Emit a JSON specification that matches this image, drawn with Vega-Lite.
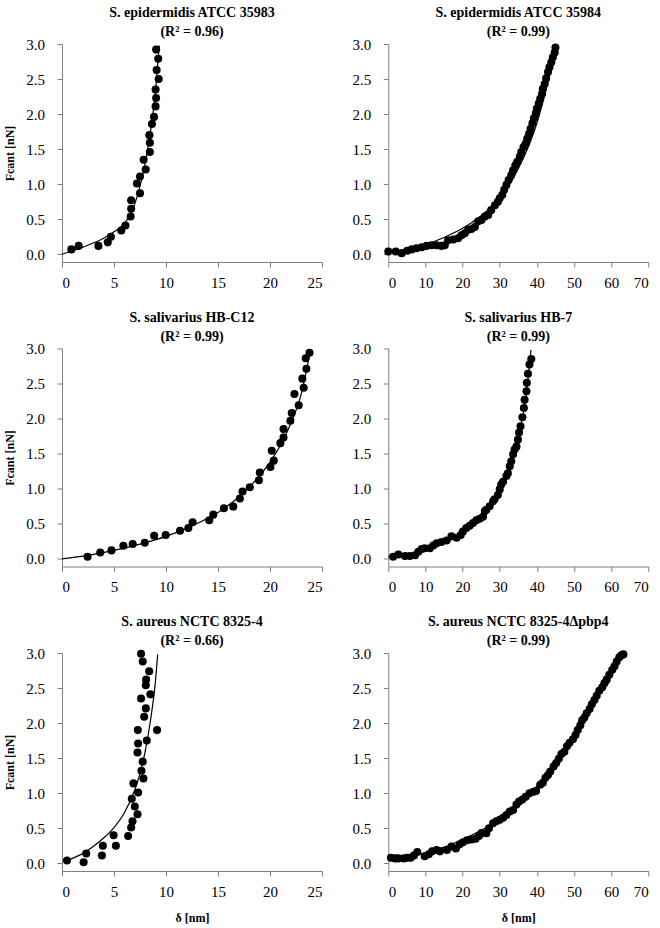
{
  "$schema": "https://vega.github.io/schema/vega-lite/v6.json",
  "autosize": {"type": "none"},
  "padding": {"left": 62, "top": 44, "right": 598, "bottom": 884},
  "config": {
    "view": {"stroke": null},
    "font": "Liberation Serif",
    "axis": {"grid": false, "domainColor": "#7f7f7f", "tickColor": "#7f7f7f", "labelFont": "Liberation Serif", "labelFontSize": 15, "labelColor": "#000", "titleFont": "Liberation Serif", "titleFontSize": 12, "titleFontWeight": "bold", "titleColor": "#000", "tickSize": 5, "domainWidth": 1, "tickWidth": 1},
    "axisX": {"labelPadding": 8, "titlePadding": 13},
    "axisY": {"labelPadding": 12.5, "titlePadding": 9},
    "title": {"font": "Liberation Serif", "fontSize": 14, "fontWeight": "bold", "color": "#000", "anchor": "middle", "offset": -2, "lineHeight": 19}
  },
  "columns": 2,
  "spacing": {"row": 86.5, "column": 66.3},
  "bounds": "flush",
  "datasets": {
    "p1": [{"d":0.9,"f":0.07},{"d":1.6,"f":0.12},{"d":3.5,"f":0.12},{"d":4.4,"f":0.17},{"d":4.7,"f":0.25},{"d":5.7,"f":0.34},{"d":6.1,"f":0.41},{"d":6.6,"f":0.54},{"d":6.65,"f":0.65},{"d":6.65,"f":0.77},{"d":7.2,"f":1.01},{"d":7.5,"f":1.11},{"d":7.5,"f":0.87},{"d":8.05,"f":1.21},{"d":7.85,"f":1.35},{"d":8.45,"f":1.46},{"d":8.45,"f":1.59},{"d":8.4,"f":1.70},{"d":8.65,"f":1.86},{"d":8.85,"f":1.96},{"d":9.0,"f":2.11},{"d":9.05,"f":2.23},{"d":9.0,"f":2.35},{"d":9.3,"f":2.50},{"d":9.1,"f":2.63},{"d":9.25,"f":2.79},{"d":9.05,"f":2.92}],
    "l1": [{"d":0,"f":0.0},{"d":1,"f":0.05},{"d":2,"f":0.1},{"d":3,"f":0.16},{"d":4,"f":0.23},{"d":5,"f":0.32},{"d":6,"f":0.44},{"d":6.5,"f":0.55},{"d":7,"f":0.72},{"d":7.5,"f":0.97},{"d":8,"f":1.3},{"d":8.5,"f":1.74},{"d":9,"f":2.35},{"d":9.35,"f":2.98}],
    "p2": [{"d":0,"f":0.04},{"d":2.0,"f":0.04},{"d":3.6,"f":0.015},{"d":5.1,"f":0.05},{"d":6.3,"f":0.07},{"d":7.6,"f":0.085},{"d":9,"f":0.1},{"d":10.3,"f":0.12},{"d":11.6,"f":0.13},{"d":13,"f":0.13},{"d":14.3,"f":0.12},{"d":15.2,"f":0.13},{"d":16.1,"f":0.2},{"d":17.5,"f":0.21},{"d":18.8,"f":0.23},{"d":19.7,"f":0.27},{"d":20.6,"f":0.3},{"d":21.5,"f":0.35},{"d":22.4,"f":0.36},{"d":23.3,"f":0.39},{"d":24.2,"f":0.47},{"d":25.1,"f":0.49},{"d":26,"f":0.54},{"d":26.9,"f":0.56},{"d":27.7,"f":0.63},{"d":28.7,"f":0.7},{"d":29.5,"f":0.75},{"d":30,"f":0.8},{"d":30.7,"f":0.85},{"d":31.2,"f":0.92},{"d":31.8,"f":0.99},{"d":32.4,"f":1.06},{"d":33.1,"f":1.13},{"d":33.6,"f":1.2},{"d":34.2,"f":1.27},{"d":34.7,"f":1.32},{"d":35.4,"f":1.39},{"d":35.8,"f":1.46},{"d":36.4,"f":1.53},{"d":37,"f":1.58},{"d":37.4,"f":1.65},{"d":37.9,"f":1.72},{"d":38.3,"f":1.79},{"d":38.8,"f":1.87},{"d":39.2,"f":1.94},{"d":39.7,"f":2.01},{"d":40,"f":2.08},{"d":40.5,"f":2.15},{"d":40.9,"f":2.22},{"d":41.4,"f":2.29},{"d":41.6,"f":2.36},{"d":42.1,"f":2.43},{"d":42.5,"f":2.51},{"d":43,"f":2.6},{"d":43.4,"f":2.67},{"d":43.9,"f":2.74},{"d":44.3,"f":2.81},{"d":44.8,"f":2.88},{"d":45,"f":2.95}],
    "l2": [{"d":0,"f":0.04},{"d":5,"f":0.075},{"d":10,"f":0.14},{"d":15,"f":0.24},{"d":20,"f":0.37},{"d":25,"f":0.55},{"d":28,"f":0.69},{"d":30,"f":0.8},{"d":35,"f":1.22},{"d":40,"f":1.87},{"d":43,"f":2.46},{"d":45.2,"f":2.97}],
    "p3": [{"d":2.46,"f":0.03},{"d":3.68,"f":0.09},{"d":4.76,"f":0.12},{"d":5.9,"f":0.185},{"d":6.8,"f":0.21},{"d":7.96,"f":0.23},{"d":8.86,"f":0.33},{"d":9.97,"f":0.34},{"d":11.35,"f":0.40},{"d":12.15,"f":0.44},{"d":12.56,"f":0.52},{"d":14.16,"f":0.55},{"d":14.55,"f":0.63},{"d":15.57,"f":0.72},{"d":16.47,"f":0.745},{"d":17.1,"f":0.86},{"d":17.36,"f":0.96},{"d":18.06,"f":1.02},{"d":18.93,"f":1.12},{"d":19.02,"f":1.23},{"d":20.04,"f":1.31},{"d":20.17,"f":1.54},{"d":20.36,"f":1.40},{"d":21.0,"f":1.65},{"d":21.3,"f":1.73},{"d":21.3,"f":1.85},{"d":21.96,"f":1.97},{"d":22.09,"f":2.08},{"d":22.76,"f":2.19},{"d":22.35,"f":2.35},{"d":23.24,"f":2.44},{"d":23.11,"f":2.57},{"d":23.5,"f":2.71},{"d":23.43,"f":2.86},{"d":23.8,"f":2.94}],
    "l3": [{"d":0,"f":0.0},{"d":2.5,"f":0.05},{"d":5,"f":0.12},{"d":7.5,"f":0.21},{"d":10,"f":0.32},{"d":12.5,"f":0.47},{"d":15,"f":0.66},{"d":17.5,"f":0.95},{"d":20,"f":1.38},{"d":21,"f":1.62},{"d":22,"f":1.93},{"d":23,"f":2.35},{"d":23.85,"f":2.95}],
    "p4": [{"d":1.3,"f":0.03},{"d":2.7,"f":0.06},{"d":4.5,"f":0.04},{"d":5.8,"f":0.04},{"d":7.2,"f":0.05},{"d":8.1,"f":0.10},{"d":9,"f":0.14},{"d":9.8,"f":0.15},{"d":11.2,"f":0.15},{"d":12.1,"f":0.19},{"d":13,"f":0.22},{"d":14.3,"f":0.24},{"d":15.7,"f":0.26},{"d":17,"f":0.32},{"d":18.4,"f":0.30},{"d":19.5,"f":0.34},{"d":20.1,"f":0.39},{"d":21,"f":0.44},{"d":21.9,"f":0.47},{"d":22.8,"f":0.51},{"d":23.7,"f":0.55},{"d":24.6,"f":0.57},{"d":25.5,"f":0.60},{"d":26,"f":0.68},{"d":26.4,"f":0.70},{"d":27.3,"f":0.75},{"d":28.2,"f":0.82},{"d":28.6,"f":0.85},{"d":29.5,"f":0.91},{"d":30,"f":0.99},{"d":30.4,"f":1.06},{"d":30.9,"f":1.10},{"d":31.8,"f":1.18},{"d":32.2,"f":1.22},{"d":32.7,"f":1.32},{"d":33.1,"f":1.39},{"d":33.6,"f":1.49},{"d":34,"f":1.56},{"d":34.5,"f":1.60},{"d":34.9,"f":1.70},{"d":35.2,"f":1.80},{"d":35.6,"f":1.89},{"d":36.1,"f":2.02},{"d":36.5,"f":2.15},{"d":36.7,"f":2.27},{"d":37.2,"f":2.39},{"d":37.3,"f":2.51},{"d":37.6,"f":2.64},{"d":38,"f":2.77},{"d":38.5,"f":2.85}],
    "l4": [{"d":0,"f":0.03},{"d":5,"f":0.06},{"d":10,"f":0.13},{"d":15,"f":0.23},{"d":20,"f":0.37},{"d":25,"f":0.6},{"d":30,"f":0.98},{"d":33,"f":1.38},{"d":35,"f":1.75},{"d":37,"f":2.28},{"d":38.4,"f":2.98}],
    "p5": [{"d":0.48,"f":0.04},{"d":2.08,"f":0.015},{"d":2.33,"f":0.14},{"d":3.84,"f":0.11},{"d":3.93,"f":0.25},{"d":4.96,"f":0.40},{"d":5.18,"f":0.25},{"d":6.36,"f":0.39},{"d":6.65,"f":0.51},{"d":6.78,"f":0.60},{"d":6.71,"f":0.92},{"d":6.87,"f":1.14},{"d":7.0,"f":0.81},{"d":7.26,"f":0.70},{"d":7.32,"f":1.01},{"d":7.26,"f":1.58},{"d":7.32,"f":1.71},{"d":7.29,"f":1.90},{"d":7.6,"f":2.35},{"d":7.6,"f":2.99},{"d":7.76,"f":2.88},{"d":7.64,"f":1.32},{"d":7.76,"f":1.45},{"d":7.83,"f":1.21},{"d":7.9,"f":2.09},{"d":8.06,"f":2.21},{"d":8.06,"f":2.54},{"d":8.09,"f":2.62},{"d":8.38,"f":2.74},{"d":8.5,"f":2.41},{"d":8.15,"f":1.75},{"d":9.14,"f":1.90}],
    "l5": [{"d":0.4,"f":0.03},{"d":1,"f":0.07},{"d":2,"f":0.14},{"d":3,"f":0.24},{"d":4,"f":0.36},{"d":5,"f":0.51},{"d":6,"f":0.72},{"d":7,"f":1.05},{"d":7.5,"f":1.28},{"d":8,"f":1.6},{"d":8.5,"f":2.03},{"d":9,"f":2.62},{"d":9.2,"f":2.98}],
    "p6": [{"d":0.7,"f":0.08},{"d":1.8,"f":0.07},{"d":2.7,"f":0.07},{"d":4.2,"f":0.07},{"d":5.1,"f":0.08},{"d":6,"f":0.08},{"d":6.9,"f":0.11},{"d":7.8,"f":0.16},{"d":9.8,"f":0.10},{"d":10.9,"f":0.13},{"d":11.8,"f":0.17},{"d":13,"f":0.19},{"d":13.9,"f":0.17},{"d":15.8,"f":0.19},{"d":17,"f":0.24},{"d":18.2,"f":0.21},{"d":19.2,"f":0.27},{"d":20.1,"f":0.30},{"d":21.2,"f":0.33},{"d":22.4,"f":0.34},{"d":23.5,"f":0.35},{"d":24.4,"f":0.39},{"d":25.1,"f":0.43},{"d":26.4,"f":0.43},{"d":27.1,"f":0.50},{"d":28.2,"f":0.57},{"d":29.1,"f":0.60},{"d":30,"f":0.62},{"d":30.9,"f":0.65},{"d":31.8,"f":0.69},{"d":32.7,"f":0.74},{"d":33.6,"f":0.76},{"d":34.5,"f":0.84},{"d":35.2,"f":0.88},{"d":36.1,"f":0.91},{"d":37,"f":0.95},{"d":38,"f":1.0},{"d":39.1,"f":1.02},{"d":39.8,"f":1.03},{"d":40.9,"f":1.12},{"d":41.6,"f":1.15},{"d":42.3,"f":1.22},{"d":43,"f":1.26},{"d":43.6,"f":1.31},{"d":44.5,"f":1.38},{"d":45.2,"f":1.43},{"d":45.9,"f":1.49},{"d":46.6,"f":1.56},{"d":47.4,"f":1.59},{"d":48.1,"f":1.67},{"d":48.8,"f":1.72},{"d":49.7,"f":1.77},{"d":50.4,"f":1.83},{"d":51,"f":1.90},{"d":51.7,"f":1.97},{"d":52.2,"f":2.04},{"d":52.8,"f":2.08},{"d":53.4,"f":2.14},{"d":54.2,"f":2.20},{"d":54.8,"f":2.27},{"d":55.5,"f":2.33},{"d":56.1,"f":2.39},{"d":56.8,"f":2.46},{"d":57.6,"f":2.51},{"d":58.2,"f":2.57},{"d":58.8,"f":2.62},{"d":59.5,"f":2.69},{"d":60.3,"f":2.76},{"d":60.9,"f":2.81},{"d":61.5,"f":2.88},{"d":62.2,"f":2.94},{"d":62.8,"f":2.97},{"d":63.3,"f":2.98}],
    "l6": [{"d":0,"f":0.06},{"d":5,"f":0.1},{"d":10,"f":0.15},{"d":15,"f":0.23},{"d":20,"f":0.34},{"d":25,"f":0.47},{"d":30,"f":0.63},{"d":35,"f":0.85},{"d":40,"f":1.1},{"d":45,"f":1.42},{"d":50,"f":1.8},{"d":55,"f":2.25},{"d":60,"f":2.72},{"d":64,"f":3.0}]
  },
  "concat": [
    {
      "width": 260, "height": 218,
      "title": {"text": ["S. epidermidis ATCC 35983", "(R² = 0.96)"]},
      "encoding": {
        "x": {"field": "d", "type": "quantitative", "scale": {"domain": [0, 25], "nice": false, "zero": false}, "axis": {"values": [0, 5, 10, 15, 20, 25], "title": null}},
        "y": {"field": "f", "type": "quantitative", "scale": {"domain": [-0.11, 3], "nice": false, "zero": false}, "axis": {"values": [0, 0.5, 1, 1.5, 2, 2.5, 3], "format": ".1f", "title": "Fcant [nN]"}}
      },
      "layer": [
        {"data": {"name": "l1"}, "mark": {"type": "line", "color": "black", "strokeWidth": 1.2, "interpolate": "monotone"}},
        {"data": {"name": "p1"}, "mark": {"type": "circle", "color": "black", "opacity": 1, "size": 65}}
      ]
    },
    {
      "width": 260, "height": 218,
      "title": {"text": ["S. epidermidis ATCC 35984", "(R² = 0.99)"]},
      "encoding": {
        "x": {"field": "d", "type": "quantitative", "scale": {"domain": [0, 70], "nice": false, "zero": false}, "axis": {"values": [0, 10, 20, 30, 40, 50, 60, 70], "title": null}},
        "y": {"field": "f", "type": "quantitative", "scale": {"domain": [-0.11, 3], "nice": false, "zero": false}, "axis": {"values": [0, 0.5, 1, 1.5, 2, 2.5, 3], "format": ".1f", "title": null}}
      },
      "layer": [
        {"data": {"name": "l2"}, "mark": {"type": "line", "color": "black", "strokeWidth": 1.2, "interpolate": "monotone"}},
        {"data": {"name": "p2"}, "mark": {"type": "circle", "color": "black", "opacity": 1, "size": 65}}
      ]
    },
    {
      "width": 260, "height": 218,
      "title": {"text": ["S. salivarius HB-C12", "(R² = 0.99)"]},
      "encoding": {
        "x": {"field": "d", "type": "quantitative", "scale": {"domain": [0, 25], "nice": false, "zero": false}, "axis": {"values": [0, 5, 10, 15, 20, 25], "title": null}},
        "y": {"field": "f", "type": "quantitative", "scale": {"domain": [-0.11, 3], "nice": false, "zero": false}, "axis": {"values": [0, 0.5, 1, 1.5, 2, 2.5, 3], "format": ".1f", "title": "Fcant [nN]"}}
      },
      "layer": [
        {"data": {"name": "l3"}, "mark": {"type": "line", "color": "black", "strokeWidth": 1.2, "interpolate": "monotone"}},
        {"data": {"name": "p3"}, "mark": {"type": "circle", "color": "black", "opacity": 1, "size": 65}}
      ]
    },
    {
      "width": 260, "height": 218,
      "title": {"text": ["S. salivarius HB-7", "(R² = 0.99)"]},
      "encoding": {
        "x": {"field": "d", "type": "quantitative", "scale": {"domain": [0, 70], "nice": false, "zero": false}, "axis": {"values": [0, 10, 20, 30, 40, 50, 60, 70], "title": null}},
        "y": {"field": "f", "type": "quantitative", "scale": {"domain": [-0.11, 3], "nice": false, "zero": false}, "axis": {"values": [0, 0.5, 1, 1.5, 2, 2.5, 3], "format": ".1f", "title": null}}
      },
      "layer": [
        {"data": {"name": "l4"}, "mark": {"type": "line", "color": "black", "strokeWidth": 1.2, "interpolate": "monotone"}},
        {"data": {"name": "p4"}, "mark": {"type": "circle", "color": "black", "opacity": 1, "size": 65}}
      ]
    },
    {
      "width": 260, "height": 218,
      "title": {"text": ["S. aureus NCTC 8325-4", "(R² = 0.66)"]},
      "encoding": {
        "x": {"field": "d", "type": "quantitative", "scale": {"domain": [0, 25], "nice": false, "zero": false}, "axis": {"values": [0, 5, 10, 15, 20, 25], "title": "δ [nm]"}},
        "y": {"field": "f", "type": "quantitative", "scale": {"domain": [-0.11, 3], "nice": false, "zero": false}, "axis": {"values": [0, 0.5, 1, 1.5, 2, 2.5, 3], "format": ".1f", "title": "Fcant [nN]"}}
      },
      "layer": [
        {"data": {"name": "l5"}, "mark": {"type": "line", "color": "black", "strokeWidth": 1.2, "interpolate": "monotone"}},
        {"data": {"name": "p5"}, "mark": {"type": "circle", "color": "black", "opacity": 1, "size": 65}}
      ]
    },
    {
      "width": 260, "height": 218,
      "title": {"text": ["S. aureus NCTC 8325-4Δpbp4", "(R² = 0.99)"]},
      "encoding": {
        "x": {"field": "d", "type": "quantitative", "scale": {"domain": [0, 70], "nice": false, "zero": false}, "axis": {"values": [0, 10, 20, 30, 40, 50, 60, 70], "title": "δ [nm]"}},
        "y": {"field": "f", "type": "quantitative", "scale": {"domain": [-0.11, 3], "nice": false, "zero": false}, "axis": {"values": [0, 0.5, 1, 1.5, 2, 2.5, 3], "format": ".1f", "title": null}}
      },
      "layer": [
        {"data": {"name": "l6"}, "mark": {"type": "line", "color": "black", "strokeWidth": 1.2, "interpolate": "monotone"}},
        {"data": {"name": "p6"}, "mark": {"type": "circle", "color": "black", "opacity": 1, "size": 65}}
      ]
    }
  ]
}
